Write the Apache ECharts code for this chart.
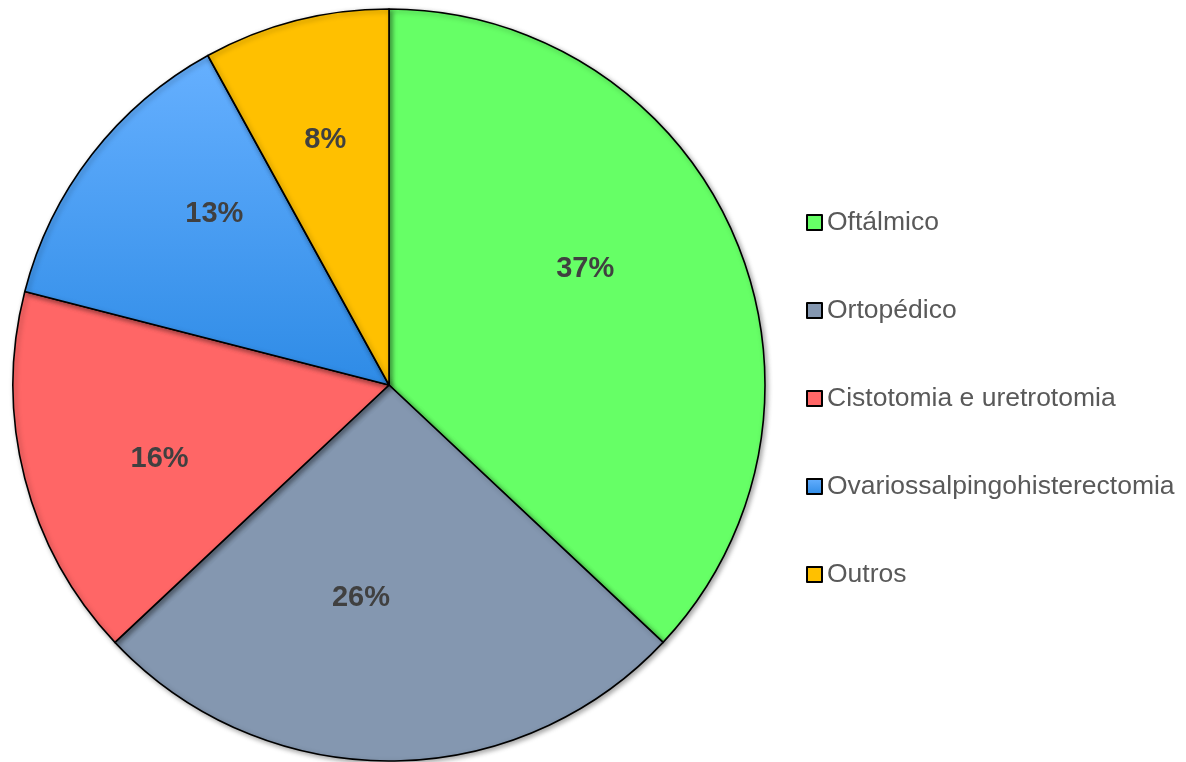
<!DOCTYPE html>
<html>
<head>
<meta charset="utf-8">
<title>Procedimentos cirúrgicos</title>
<script src="https://cdn.jsdelivr.net/npm/echarts@6/dist/echarts.min.js"></script>
<style>
  html, body { margin: 0; padding: 0; background: #ffffff; }
  #chart { width: 1186px; height: 762px; }
</style>
</head>
<body>
<div id="chart"></div>
<script>
// Surgical procedure categories and their share (%)
const categories = [
  'Oftálmico',
  'Ortopédico',
  'Cistotomia e uretrotomia',
  'Ovariossalpingohisterectomia',
  'Outros'
];
const shares = [37, 26, 16, 13, 8];

const sliceColors = [
  '#66ff66',
  '#8497b0',
  '#ff6666',
  new echarts.graphic.LinearGradient(0, 0, 0, 1, [
    { offset: 0, color: '#66b0ff' },
    { offset: 1, color: '#2e8be6' }
  ]),
  '#ffc000'
];

// small nudges of the percentage labels away from the ring midpoint (px)
const labelNudge = [[-24, -21], [-28, -27], [3, 14], [15, -24], [-4, -13]];

const pieData = categories.map((name, i) => ({
  name: name,
  value: shares[i],
  itemStyle: { color: sliceColors[i] }
}));

const labelData = categories.map((name, i) => ({
  name: name,
  value: shares[i],
  label: { offset: labelNudge[i] }
}));

const chart = echarts.init(document.getElementById('chart'), null, { renderer: 'canvas' });

const FONT = '"Liberation Sans", Arial, Helvetica, sans-serif';

chart.setOption({
  animation: false,
  backgroundColor: '#ffffff',
  legend: {
    data: categories,
    orient: 'vertical',
    left: 806,
    top: 209,
    padding: 0,
    itemWidth: 15,
    itemHeight: 15,
    itemGap: 61,
    icon: 'rect',
    selectedMode: false,
    itemStyle: { borderColor: '#000000', borderWidth: 2 },
    textStyle: {
      fontFamily: FONT,
      fontSize: 26.5,
      lineHeight: 27,
      color: '#595959'
    }
  },
  series: [
    {
      type: 'pie',
      center: [389, 385],
      radius: 376,
      startAngle: 90,
      clockwise: true,
      silent: true,
      data: pieData,
      label: { show: false },
      labelLine: { show: false },
      itemStyle: {
        borderColor: '#000000',
        borderWidth: 1.6,
        shadowBlur: 5,
        shadowOffsetX: 2,
        shadowOffsetY: 2,
        shadowColor: 'rgba(0,0,0,0.35)'
      }
    },
    {
      // transparent ring that carries the percentage labels
      type: 'pie',
      center: [389, 385],
      radius: [98, 376],
      startAngle: 90,
      clockwise: true,
      silent: true,
      data: labelData,
      itemStyle: { color: 'rgba(0,0,0,0)', borderWidth: 0 },
      labelLine: { show: false },
      label: {
        show: true,
        position: 'inside',
        formatter: '{c}%',
        fontFamily: FONT,
        fontSize: 29,
        fontWeight: 'bold',
        color: '#404040'
      }
    }
  ]
});
</script>
</body>
</html>
